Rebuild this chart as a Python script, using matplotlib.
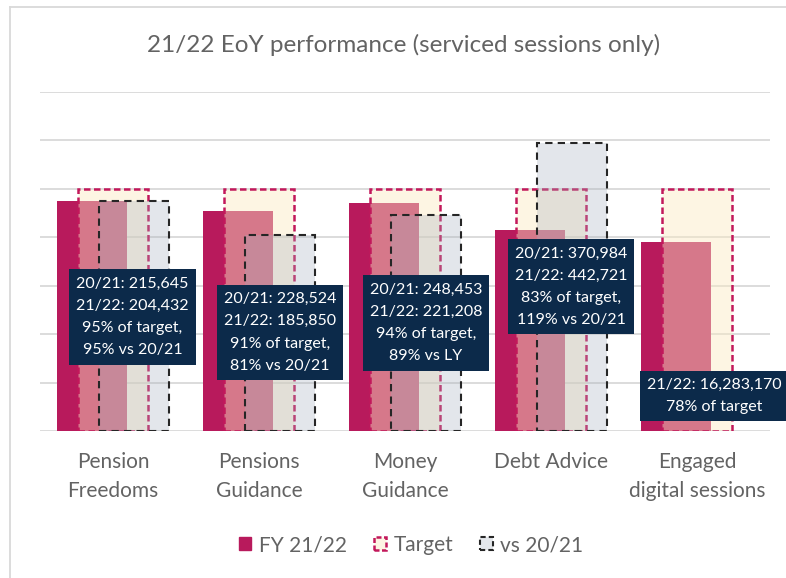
import numpy as np
import matplotlib; matplotlib.use("Agg")
import matplotlib.pyplot as plt
from matplotlib.patches import Patch
from matplotlib.lines import Line2D

plt.rcParams['font.family'] = ['Lato', 'DejaVu Sans']

# ---- data (indexed: target = 100) ----
categories = ["Pension\nFreedoms", "Pensions\nGuidance", "Money\nGuidance",
              "Debt Advice", "Engaged\ndigital sessions"]
fy_pct_target = [95, 91, 94, 83, 78]        # FY 21/22 as % of target
target_pct    = [100, 100, 100, 100, 100]  # target
vs_ly_pct     = [95, 81, 89, 119]          # FY 21/22 vs 20/21 (no value for digital)
box_texts = ["20/21: 215,645\n21/22: 204,432\n95% of target,\n95% vs 20/21",
             "20/21: 228,524\n21/22: 185,850\n91% of target,\n81% vs 20/21",
             "20/21: 248,453\n21/22: 221,208\n94% of target,\n89% vs LY",
             "20/21: 370,984\n21/22: 442,721\n83% of target,\n119% vs 20/21",
             "21/22: 16,283,170\n78% of target"]
box_pos = [(0.134, 47.1), (1.144, 40.7), (2.144, 44.6), (3.137, 59.5), (4.12, 14.5)]

MAG  = "#B81A5C"
GREY = "#636363"
W, OFF = 0.48, 0.144

fig = plt.figure(figsize=(7.86, 5.78), dpi=100)
ax = fig.add_axes([40/786, (578-431)/578, 730/786, (431-92)/578])
x = np.arange(len(categories))

ax.bar(x - OFF, fy_pct_target, W, color=MAG, zorder=2)
ax.bar(x, target_pct, W, facecolor=(251/255, 235/255, 195/255, 0.45),
       edgecolor="#C2185B", linestyle=(0, (2.6, 1.4)), linewidth=1.8, zorder=3)
xv = x[:len(vs_ly_pct)] + OFF
ax.bar(xv, vs_ly_pct, W, facecolor=(165/255, 175/255, 190/255, 0.30),
       edgecolor="#262626", linestyle=(0, (3.5, 2.5)), linewidth=1.5, zorder=4)

for (bx, by), t in zip(box_pos, box_texts):
    ax.text(bx, by, t, ha="center", va="center", multialignment="center",
            fontsize=11.5, color="white", linespacing=1.75, zorder=6,
            bbox=dict(boxstyle="square,pad=0.45", fc="#0C2A4A", ec="none"),
            clip_on=False)

ax.set_xlim(-0.5, 4.5)
ax.set_ylim(0, 140)
ax.set_yticks(np.arange(0, 141, 20))
ax.set_yticklabels([])
ax.tick_params(axis="y", length=0)
ax.grid(axis="y", color="#D9D9D9", lw=1.3, zorder=0)
ax.set_axisbelow(True)
for s in ax.spines.values():
    s.set_visible(False)
ax.set_xticks(x)
ax.set_xticklabels(categories, fontsize=15, color=GREY, linespacing=1.55)
ax.tick_params(axis="x", length=0, pad=15)

fig.text(0.513, 1 - 45/578, "21/22 EoY performance (serviced sessions only)",
         ha="center", va="center", fontsize=17.5, color=GREY)

handles = [Patch(facecolor=MAG, edgecolor=MAG),
           Patch(facecolor="#FDF5E3", edgecolor="#C2185B", linestyle=(0, (2, 1)), linewidth=1.8),
           Patch(facecolor="#E4E7EB", edgecolor="#262626", linestyle=(0, (2.5, 1.5)), linewidth=1.5)]
leg = fig.legend(handles, ["FY 21/22", "Target", "vs 20/21"], loc="center",
                 bbox_to_anchor=(0.523, 1 - 545/578), ncol=3, frameon=False,
                 fontsize=15, handlelength=0.6, handleheight=0.6,
                 handletextpad=0.35, columnspacing=1.3)
for t in leg.get_texts():
    t.set_color(GREY)

# chart border (left and top visible)
fig.add_artist(Line2D([10/786, 10/786], [0, 1 - 7/578], color="#D9D9D9", lw=1.3))
fig.add_artist(Line2D([10/786, 1], [1 - 7/578, 1 - 7/578], color="#D9D9D9", lw=1.3))

fig.savefig("out.png", dpi=100)
